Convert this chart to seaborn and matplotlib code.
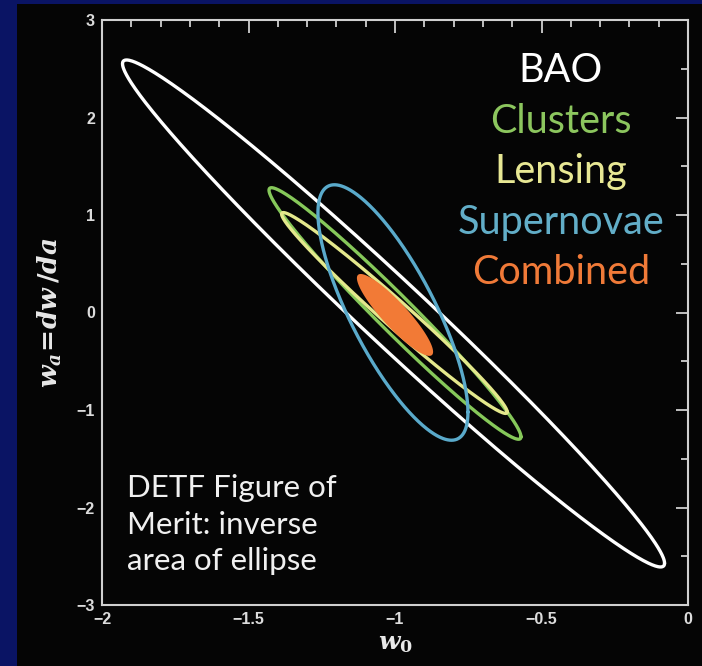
import numpy as np
import pandas as pd
import matplotlib
matplotlib.use("Agg")
import matplotlib.pyplot as plt
from matplotlib.ticker import MultipleLocator
import seaborn as sns

# Forecast 1-sigma contours in the (w0, wa) plane for each probe
probes = ["BAO", "Clusters", "Lensing", "Supernovae", "Combined"]
center_w0 = [-1.005, -1.0, -1.002, -1.007, -1.0]
center_wa = [-0.01, -0.01, -0.005, 0.0, -0.025]
half_w0 = [0.925, 0.43, 0.385, 0.256, 0.13]
half_wa = [2.60, 1.29, 1.03, 1.31, 0.42]
corr = [-0.985, -0.98, -0.985, -0.78, -0.90]
colors = ["#ffffff", "#86c85a", "#e4e88c", "#5aaacb", "#f27a36"]
label_colors = ["#ffffff", "#8cc65e", "#e8e894", "#62aec8", "#f07a38"]
filled = [False, False, False, False, True]

x_ticks = [-2, -1.5, -1, -0.5, 0]
y_ticks = [-3, -2, -1, 0, 1, 2, 3]
note_lines = ["DETF Figure of", "Merit: inverse", "area of ellipse"]

# Outline of each error ellipse from its centre, half-extents and correlation
t = np.linspace(0, 2 * np.pi, 600)
frames = []
for name, cx, cy, a, b, r in zip(probes, center_w0, center_wa, half_w0, half_wa, corr):
    frames.append(pd.DataFrame({
        "probe": name,
        "order": np.arange(t.size),
        "w0": cx + a * np.cos(t),
        "wa": cy + b * (r * np.cos(t) + np.sqrt(1 - r * r) * np.sin(t)),
    }))
df = pd.concat(frames, ignore_index=True)

sns.set_theme(style="white")
plt.rcParams["mathtext.fontset"] = "custom"
plt.rcParams["mathtext.it"] = "DejaVu Serif:italic:bold"
plt.rcParams["mathtext.rm"] = "DejaVu Serif:bold"

fig = plt.figure(figsize=(7.02, 6.66), dpi=100)
fig.patch.set_facecolor("#0a1464")

# black slide panel behind the plot
panel = fig.add_axes([17 / 702, 0, 1 - 17 / 702, 662 / 666], zorder=-5)
panel.set_facecolor("#050505")
panel.set_xticks([])
panel.set_yticks([])
for sp in panel.spines.values():
    sp.set_visible(False)

ax = fig.add_axes([102 / 702, 61 / 666, 586 / 702, 585 / 666], zorder=1)
ax.set_facecolor("#050505")

outline = df[~df["probe"].isin([p for p, f in zip(probes, filled) if f])]
sns.lineplot(data=outline, x="w0", y="wa", hue="probe", units="probe",
             estimator=None, sort=False, palette=dict(zip(probes, colors)),
             hue_order=[p for p, f in zip(probes, filled) if not f],
             legend=False, linewidth=2.4, ax=ax)
for name, col, f in zip(probes, colors, filled):
    if f:
        part = df[df["probe"] == name]
        ax.fill(part["w0"], part["wa"], color=col, lw=0, zorder=5)

ax.set_xlim(-2, 0)
ax.set_ylim(-3, 3)
ax.set_xticks(x_ticks)
ax.set_xticklabels([f"{v:g}".replace("-", "\u2212") for v in x_ticks])
ax.set_yticks(y_ticks)
ax.set_yticklabels([f"{v:g}".replace("-", "\u2212") for v in y_ticks])
ax.xaxis.set_minor_locator(MultipleLocator(0.1))
ax.yaxis.set_minor_locator(MultipleLocator(0.5))
ax.tick_params(which="both", direction="in", top=True, right=True,
               color="#cfcfcf", width=1.3, labelsize=11.5, labelcolor="#dcdcdc")
ax.tick_params(which="major", length=9, pad=5)
ax.tick_params(which="minor", length=5)
for lab in ax.get_xticklabels() + ax.get_yticklabels():
    lab.set_fontweight("bold")
    lab.set_fontfamily("Liberation Sans")
for sp in ax.spines.values():
    sp.set_color("#d0d0d0")
    sp.set_linewidth(1.5)

ax.set_xlabel(r"$w_0$", fontsize=18, color="#e8e8e8", labelpad=3)
ax.set_ylabel(r"$w_a\!=\!dw\,/da$", fontsize=19, color="#e8e8e8", labelpad=9)

# Probe names, coloured like their contours
for i, (name, col) in enumerate(zip(probes, label_colors)):
    fig.text(561 / 702, 1 - (82 + 50.6 * i) / 666, name,
             ha="center", va="baseline", fontsize=28.5, color=col,
             fontfamily="Lato", zorder=10)

for i, line in enumerate(note_lines):
    fig.text(127 / 702, 1 - (497 + 36.5 * i) / 666, line,
             ha="left", va="baseline", fontsize=22.5, color="#f0f0f0",
             fontfamily="Lato", zorder=10)

fig.savefig("out.png", dpi=100, facecolor=fig.get_facecolor())
